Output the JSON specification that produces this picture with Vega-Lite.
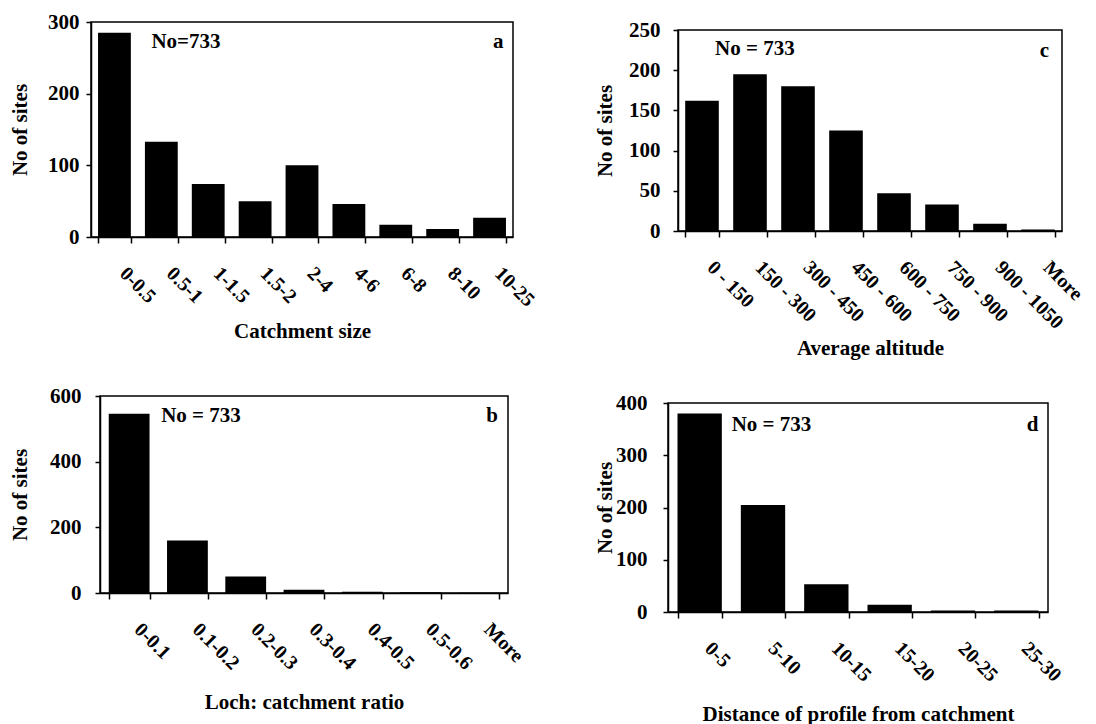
{
  "$schema": "https://vega.github.io/schema/vega-lite/v6.json",
  "background": "white",
  "padding": {"left": 7, "top": 9, "right": 0, "bottom": 0},
  "datasets": {
    "a": [
      {"bin": "0-0.5", "sites": 285}, {"bin": "0.5-1", "sites": 133}, {"bin": "1-1.5", "sites": 74},
      {"bin": "1.5-2", "sites": 50}, {"bin": "2-4", "sites": 100}, {"bin": "4-6", "sites": 46},
      {"bin": "6-8", "sites": 17}, {"bin": "8-10", "sites": 11}, {"bin": "10-25", "sites": 27}
    ],
    "a_notes": [
      {"bin": "0-0.5", "y": 272, "label": "No=733"},
      {"bin": "10-25", "y": 272, "label": "a"}
    ],
    "b": [
      {"bin": "0-0.1", "sites": 546}, {"bin": "0.1-0.2", "sites": 160}, {"bin": "0.2-0.3", "sites": 50},
      {"bin": "0.3-0.4", "sites": 10}, {"bin": "0.4-0.5", "sites": 4}, {"bin": "0.5-0.6", "sites": 2},
      {"bin": "More", "sites": 1}
    ],
    "b_notes": [
      {"bin": "0-0.1", "y": 539, "label": "No = 733"},
      {"bin": "More", "y": 539, "label": "b"}
    ],
    "c": [
      {"bin": "0 - 150", "sites": 162}, {"bin": "150 - 300", "sites": 195}, {"bin": "300 - 450", "sites": 180},
      {"bin": "450 - 600", "sites": 125}, {"bin": "600 - 750", "sites": 47}, {"bin": "750 - 900", "sites": 33},
      {"bin": "900 - 1050", "sites": 9}, {"bin": "More", "sites": 2}
    ],
    "c_notes": [
      {"bin": "0 - 150", "y": 226, "label": "No = 733"},
      {"bin": "More", "y": 224, "label": "c"}
    ],
    "d": [
      {"bin": "0-5", "sites": 380}, {"bin": "5-10", "sites": 205}, {"bin": "10-15", "sites": 53},
      {"bin": "15-20", "sites": 14}, {"bin": "20-25", "sites": 3}, {"bin": "25-30", "sites": 3}
    ],
    "d_notes": [
      {"bin": "0-5", "y": 358, "label": "No = 733"},
      {"bin": "25-30", "y": 358, "label": "d"}
    ]
  },
  "align": "none",
  "spacing": 53,
  "hconcat": [
    {
      "align": "none",
      "spacing": 42,
      "vconcat": [
        {
          "align": "none",
          "spacing": 0,
          "vconcat": [
            {"width": 1, "height": 1, "data": {"values": []}, "mark": {"type": "point", "opacity": 0}, "encoding": {}, "view": {"stroke": null}},
            {
              "align": "none",
              "spacing": 0,
              "hconcat": [
                {"width": 1, "height": 1, "data": {"values": []}, "mark": {"type": "point", "opacity": 0}, "encoding": {}, "view": {"stroke": null}},
                {
                  "width": 422, "height": 215,
                  "layer": [
                    {
                      "data": {"name": "a"},
                      "mark": {"type": "bar", "color": "black"},
                      "encoding": {
                        "x": {"field": "bin", "type": "nominal", "sort": null, "title": "Catchment size",
                              "scale": {"paddingInner": 0.3, "paddingOuter": 0.15},
                              "axis": {"titlePadding": 10}},
                        "y": {"field": "sites", "type": "quantitative", "title": "No of sites",
                              "scale": {"domain": [0, 300], "nice": false},
                              "axis": {"values": [0, 50, 100, 150, 200, 250, 300], "labelOverlap": false, "labelPadding": 7, "titlePadding": 17}}
                      }
                    },
                    {
                      "data": {"name": "a_notes"},
                      "transform": [{"filter": "datum.label != 'a'"}],
                      "mark": {"type": "text", "align": "left", "baseline": "middle", "dx": 37},
                      "encoding": {"x": {"field": "bin", "type": "nominal", "sort": null}, "y": {"field": "y", "type": "quantitative", "axis": {"labelOverlap": false}}, "text": {"field": "label"}}
                    },
                    {
                      "data": {"name": "a_notes"},
                      "transform": [{"filter": "datum.label == 'a'"}],
                      "mark": {"type": "text", "align": "right", "baseline": "middle", "dx": 14},
                      "encoding": {"x": {"field": "bin", "type": "nominal", "sort": null}, "y": {"field": "y", "type": "quantitative", "axis": {"labelOverlap": false}}, "text": {"field": "label"}}
                    }
                  ]
                }
              ]
            }
          ]
        },
        {
          "align": "none",
          "spacing": 0,
          "hconcat": [
            {"width": 1, "height": 1, "data": {"values": []}, "mark": {"type": "point", "opacity": 0}, "encoding": {}, "view": {"stroke": null}},
            {
              "width": 408, "height": 197,
              "layer": [
                {
                  "data": {"name": "b"},
                  "mark": {"type": "bar", "color": "black"},
                  "encoding": {
                    "x": {"field": "bin", "type": "nominal", "sort": null, "title": "Loch: catchment ratio",
                          "scale": {"paddingInner": 0.3, "paddingOuter": 0.15},
                          "axis": {"titlePadding": 18}},
                    "y": {"field": "sites", "type": "quantitative", "title": "No of sites",
                          "scale": {"domain": [0, 600], "nice": false},
                          "axis": {"values": [0, 100, 200, 300, 400, 500, 600], "labelOverlap": false, "labelPadding": 14, "titlePadding": 19}}
                  }
                },
                {
                  "data": {"name": "b_notes"},
                  "transform": [{"filter": "datum.label != 'b'"}],
                  "mark": {"type": "text", "align": "left", "baseline": "middle", "dx": 32},
                  "encoding": {"x": {"field": "bin", "type": "nominal", "sort": null}, "y": {"field": "y", "type": "quantitative", "axis": {"labelOverlap": false}}, "text": {"field": "label"}}
                },
                {
                  "data": {"name": "b_notes"},
                  "transform": [{"filter": "datum.label == 'b'"}],
                  "mark": {"type": "text", "align": "right", "baseline": "middle", "dx": 19},
                  "encoding": {"x": {"field": "bin", "type": "nominal", "sort": null}, "y": {"field": "y", "type": "quantitative", "axis": {"labelOverlap": false}}, "text": {"field": "label"}}
                }
              ]
            }
          ]
        }
      ]
    },
    {
      "align": "none",
      "spacing": 31,
      "vconcat": [
        {
          "align": "none",
          "spacing": 0,
          "vconcat": [
            {"width": 1, "height": 9, "data": {"values": []}, "mark": {"type": "point", "opacity": 0}, "encoding": {}, "view": {"stroke": null}},
            {
              "align": "none",
              "spacing": 0,
              "hconcat": [
                {"width": 1, "height": 1, "data": {"values": []}, "mark": {"type": "point", "opacity": 0}, "encoding": {}, "view": {"stroke": null}},
                {
                  "width": 384, "height": 201,
                  "layer": [
                    {
                      "data": {"name": "c"},
                      "mark": {"type": "bar", "color": "black"},
                      "encoding": {
                        "x": {"field": "bin", "type": "nominal", "sort": null, "title": "Average altitude",
                              "scale": {"paddingInner": 0.3, "paddingOuter": 0.15},
                              "axis": {"titlePadding": 5}},
                        "y": {"field": "sites", "type": "quantitative", "title": "No of sites",
                              "scale": {"domain": [0, 250], "nice": false},
                              "axis": {"values": [0, 50, 100, 150, 200, 250], "labelOverlap": false, "labelPadding": 13, "titlePadding": 13}}
                      }
                    },
                    {
                      "data": {"name": "c_notes"},
                      "transform": [{"filter": "datum.label != 'c'"}],
                      "mark": {"type": "text", "align": "left", "baseline": "middle", "dx": 13},
                      "encoding": {"x": {"field": "bin", "type": "nominal", "sort": null}, "y": {"field": "y", "type": "quantitative", "axis": {"labelOverlap": false}}, "text": {"field": "label"}}
                    },
                    {
                      "data": {"name": "c_notes"},
                      "transform": [{"filter": "datum.label == 'c'"}],
                      "mark": {"type": "text", "align": "right", "baseline": "middle", "dx": 11},
                      "encoding": {"x": {"field": "bin", "type": "nominal", "sort": null}, "y": {"field": "y", "type": "quantitative", "axis": {"labelOverlap": false}}, "text": {"field": "label"}}
                    }
                  ]
                }
              ]
            }
          ]
        },
        {
          "align": "none",
          "spacing": 0,
          "hconcat": [
            {"width": 1, "height": 1, "data": {"values": []}, "mark": {"type": "point", "opacity": 0}, "encoding": {}, "view": {"stroke": null}},
            {
              "width": 380, "height": 209,
              "layer": [
                {
                  "data": {"name": "d"},
                  "mark": {"type": "bar", "color": "black"},
                  "encoding": {
                    "x": {"field": "bin", "type": "nominal", "sort": null, "title": "Distance of profile from catchment",
                          "scale": {"paddingInner": 0.3, "paddingOuter": 0.15},
                          "axis": {"titlePadding": 18}},
                    "y": {"field": "sites", "type": "quantitative", "title": "No of sites",
                          "scale": {"domain": [0, 400], "nice": false},
                          "axis": {"values": [0, 100, 200, 300, 400], "labelOverlap": false, "labelPadding": 16, "titlePadding": 0}}
                  }
                },
                {
                  "data": {"name": "d_notes"},
                  "transform": [{"filter": "datum.label != 'd'"}],
                  "mark": {"type": "text", "align": "left", "baseline": "middle", "dx": 32},
                  "encoding": {"x": {"field": "bin", "type": "nominal", "sort": null}, "y": {"field": "y", "type": "quantitative", "axis": {"labelOverlap": false}}, "text": {"field": "label"}}
                },
                {
                  "data": {"name": "d_notes"},
                  "transform": [{"filter": "datum.label == 'd'"}],
                  "mark": {"type": "text", "align": "right", "baseline": "middle", "dx": 22},
                  "encoding": {"x": {"field": "bin", "type": "nominal", "sort": null}, "y": {"field": "y", "type": "quantitative", "axis": {"labelOverlap": false}}, "text": {"field": "label"}}
                }
              ]
            }
          ]
        }
      ]
    }
  ],
  "config": {
    "font": "Liberation Serif",
    "view": {"stroke": "black", "strokeWidth": 1.5},
    "text": {"font": "Liberation Serif", "fontSize": 21, "fontWeight": "bold", "color": "black"},
    "axis": {
      "grid": false,
      "domainColor": "black", "domainWidth": 1.5,
      "tickColor": "black", "tickWidth": 1.5, "tickSize": 5,
      "labelColor": "black", "labelFont": "Liberation Serif", "labelFontWeight": "bold", "labelFontSize": 20,
      "titleColor": "black", "titleFont": "Liberation Serif", "titleFontWeight": "bold", "titleFontSize": 21
    },
    "axisX": {"labelAngle": 45, "labelAlign": "left", "labelBaseline": "top", "tickBand": "extent", "labelPadding": 20, "labelOffset": 15, "tickSize": 6},
    "axisY": {"labelBaseline": "middle", "labelOverlap": false, "labelFontSize": 21}
  }
}
